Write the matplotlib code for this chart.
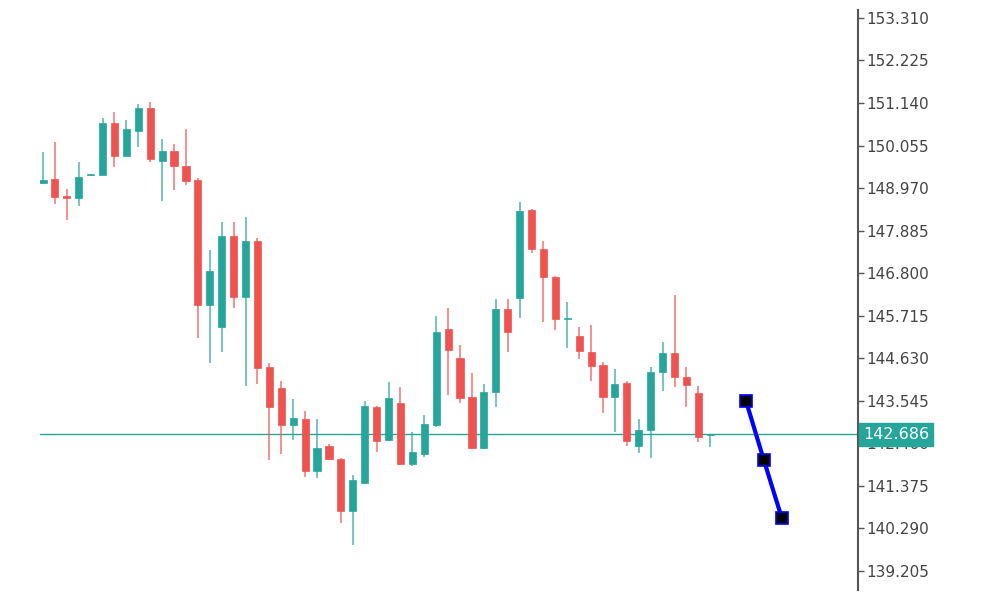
import matplotlib
matplotlib.use("Agg")
import matplotlib.pyplot as plt
import numpy as np
from matplotlib.patches import Rectangle

# OHLC (candle 0 .. 56)
opens = [149.10, 149.20, 148.77, 148.72, 149.29, 149.30, 150.63, 149.79, 150.43, 151.01,
         149.66, 149.92, 149.53, 149.18, 145.99, 145.43, 147.75, 146.19, 147.62, 144.41,
         143.87, 142.93, 143.08, 141.75, 142.39, 142.06, 140.73, 141.45, 143.39, 142.55,
         143.49, 141.93, 142.19, 142.93, 145.38, 144.64, 143.64, 142.34, 143.77, 145.89,
         146.17, 148.41, 147.42, 146.70, 145.62, 145.20, 144.79, 144.46, 143.64, 144.00,
         142.39, 142.80, 144.28, 144.76, 144.15, 143.74, 142.66]
highs = [149.89, 150.15, 148.95, 149.64, 149.33, 150.76, 150.91, 150.71, 151.12, 151.17,
         150.22, 150.10, 150.48, 149.23, 147.39, 148.11, 148.11, 148.23, 147.70, 144.51,
         144.05, 143.59, 143.28, 143.08, 142.44, 142.09, 141.65, 143.54, 143.41, 144.02,
         143.90, 142.75, 143.18, 145.71, 145.91, 144.97, 144.25, 143.97, 146.14, 146.14,
         148.62, 148.44, 147.62, 146.73, 146.07, 145.43, 145.48, 144.53, 144.36, 144.05,
         143.08, 144.41, 145.05, 146.24, 144.41, 143.92, 142.70]
lows = [149.07, 148.57, 148.16, 148.51, 149.28, 149.29, 149.51, 149.78, 150.02, 149.64,
        148.64, 148.92, 149.05, 145.15, 144.51, 144.79, 145.91, 143.92, 143.97, 142.03,
        142.19, 142.55, 141.60, 141.58, 142.03, 140.43, 139.87, 141.42, 142.24, 142.52,
        141.91, 141.88, 142.11, 142.88, 143.69, 143.49, 142.32, 142.32, 143.39, 144.79,
        145.66, 147.32, 145.56, 145.35, 144.89, 144.61, 144.05, 143.23, 142.75, 142.39,
        142.21, 142.09, 143.80, 143.90, 143.39, 142.49, 142.36]
closes = [149.18, 148.74, 148.72, 149.25, 149.31, 150.63, 149.79, 150.48, 151.01, 149.71,
          149.92, 149.53, 149.15, 145.99, 146.86, 147.75, 146.19, 147.62, 144.38, 143.39,
          142.93, 143.11, 141.75, 142.34, 142.06, 140.73, 141.52, 143.41, 142.52, 143.62,
          141.93, 142.24, 142.95, 145.30, 144.84, 143.62, 142.34, 143.77, 145.89, 145.30,
          148.39, 147.42, 146.70, 145.63, 145.65, 144.82, 144.43, 143.64, 143.97, 142.52,
          142.80, 144.28, 144.76, 144.15, 143.95, 142.62, 142.686]

# forecast points (blue line)
fc_x = [59, 60.5, 62]
fc_y = [143.54, 142.03, 140.56]

last_price = 142.686
tick_vals = [153.310, 152.225, 151.140, 150.055, 148.970, 147.885, 146.800,
             145.715, 144.630, 143.545, 142.460, 141.375, 140.290, 139.205]

up_col = '#26a69a'
down_col = '#ef5350'

fig = plt.figure(figsize=(10, 6), dpi=100)
ax = fig.add_axes([0.04, 0.0167, 0.818, 0.9666])

w = 0.6
for i in range(len(opens)):
    o, h, l, c = opens[i], highs[i], lows[i], closes[i]
    col = up_col if c >= o else down_col
    ax.plot([i, i], [l, h], color=col, lw=1.2, alpha=0.75, solid_capstyle='butt', zorder=2)
    bottom = min(o, c)
    height = max(abs(c - o), 0.04)
    ax.add_patch(Rectangle((i - w / 2, bottom), w, height, facecolor=col,
                           edgecolor=col, lw=0.5, zorder=3))

# current price line
ax.axhline(last_price, color=up_col, lw=1.0, zorder=1)

# forecast line
ax.plot(fc_x, fc_y, color='#0000ff', lw=3, marker='s', markersize=9,
        markerfacecolor='black', markeredgecolor='#0000ff', markeredgewidth=1.2, zorder=5)

ax.set_xlim(-0.25, 68.4)
ax.set_ylim(138.72, 153.51)

for s in ['top', 'left', 'bottom']:
    ax.spines[s].set_visible(False)
ax.spines['right'].set_color('#555555')
ax.spines['right'].set_linewidth(1.5)
ax.set_xticks([])
ax.yaxis.tick_right()
ax.set_yticks(tick_vals)
ax.set_yticklabels(['%.3f' % v for v in tick_vals])
ax.tick_params(axis='y', direction='out', length=4, width=1, colors='#555555',
               labelsize=11, labelcolor='#444444', pad=2)

# price label box (covers the 142.460 tick label, as in the original)
ax.text(1.006, last_price, '%.3f' % last_price, transform=ax.get_yaxis_transform(),
        va='center', ha='left', color='white', fontsize=11.5, zorder=10,
        bbox=dict(boxstyle='square,pad=0.25', facecolor=up_col, edgecolor=up_col))

fig.savefig('out.png', dpi=100, facecolor='white')
